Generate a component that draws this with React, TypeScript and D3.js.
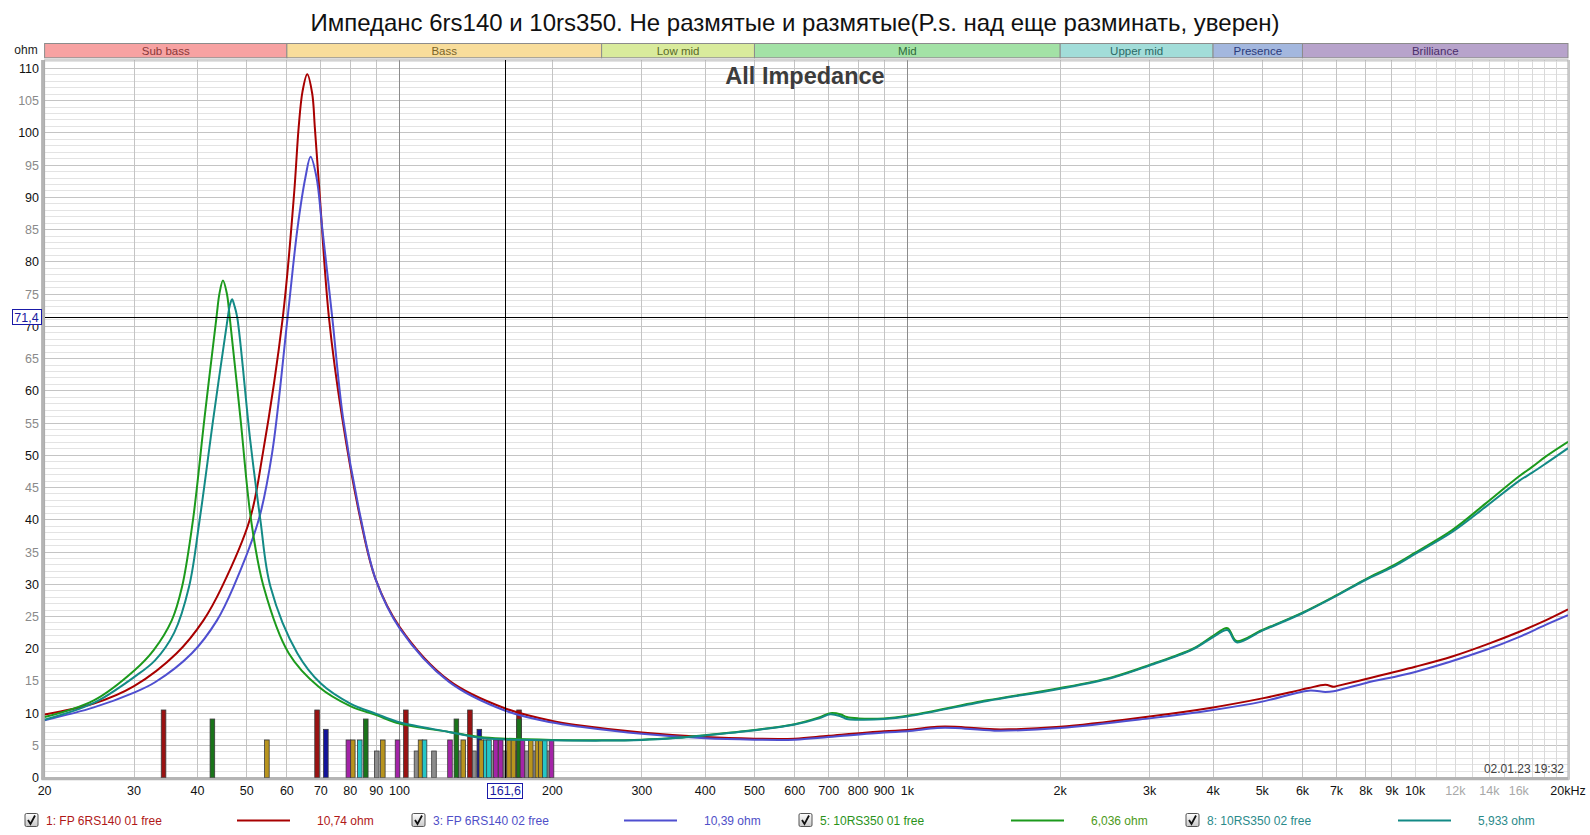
import React from "react";
import * as d3 from "d3";

const TITLE = "Импеданс 6rs140 и 10rs350. Не размятые и размятые(P.s. над еще разминать, уверен)";
const CHART_NAME = "All Impedance";
const DATE_STAMP = "02.01.23 19:32";
const Y_UNIT = "ohm";

// Series: [frequency Hz, impedance ohm]
const fp6rs140_01: [number, number][] = [
  [20, 9.8], [25, 11.5], [30, 14.2], [36.4, 19.3], [41.1, 24.4], [44.7, 29.6], [50.7, 40], [53.8, 50.3],
  [58.9, 71.4], [62.0, 90.6], [63.3, 100.9], [64.4, 106.4], [65.8, 109.1], [67.3, 106.1],
  [68.1, 100.9], [69.6, 90.6], [72.6, 71.4], [77.1, 55.8], [83.8, 40], [89.7, 30.8], [100, 23.4], [125, 15.1],
  [161.6, 10.74], [200, 8.8], [227, 8.1], [300, 7.0], [400, 6.3], [500, 6.05], [600, 6.05], [700, 6.5],
  [900, 7.2], [1000, 7.4], [1145, 7.9], [1242, 7.9], [1484, 7.5], [2000, 7.9], [3000, 9.5], [4000, 10.9],
  [5000, 12.3], [5720, 13.3], [6170, 13.9], [6655, 14.4], [6910, 14.1], [7000, 14.2], [8000, 15.3],
  [10000, 17.2], [11830, 18.8], [13760, 20.6], [16000, 22.6], [18070, 24.4], [20000, 26.1],
];
const fp6rs140_02: [number, number][] = [
  [20, 8.9], [25, 10.9], [30, 13.2], [33, 14.8], [39.0, 19.3], [43.7, 24.4], [47.1, 29.6], [52.8, 40],
  [56.1, 50.3], [60.2, 71.4], [63.0, 85.4], [65.3, 93.2], [66.8, 96.3], [68.6, 93.2],
  [70.4, 85.4], [73.7, 71.4], [77.4, 55.8], [84.0, 40], [89.9, 30.6], [100, 23.2], [125, 14.9],
  [161.6, 10.39], [200, 8.55], [227, 7.9], [300, 6.8], [400, 6.1], [500, 5.9], [600, 5.9], [700, 6.3],
  [900, 7.0], [1000, 7.2], [1145, 7.7], [1242, 7.7], [1484, 7.3], [2000, 7.7], [3000, 9.2], [4000, 10.5],
  [5000, 11.8], [6170, 13.5], [6655, 13.3], [6910, 13.4], [8000, 14.7], [10000, 16.4], [13760, 19.8],
  [16000, 21.8], [18070, 23.7], [20000, 25.2],
];
const rs350_01: [number, number][] = [
  [20, 9.4], [25, 12.0], [30, 16.6], [32.8, 19.8], [35.6, 24.4], [37.3, 29.6], [39.2, 40], [41.3, 55.8],
  [43.6, 71.4], [44.2, 75.1], [44.9, 77.1], [45.7, 75.1], [46.3, 71.4], [48.6, 55.8], [51, 40], [54, 29.6],
  [60.5, 19.3], [69.3, 14.1], [80, 11.1], [90, 9.7], [100, 8.4], [125, 7.1], [144, 6.3], [161.6, 6.04],
  [200, 5.85], [250, 5.8], [300, 5.9], [350, 6.2], [400, 6.6], [500, 7.4], [600, 8.3], [670, 9.35],
  [705, 10.0], [740, 9.8], [760, 9.4], [800, 9.2], [900, 9.2], [1000, 9.6], [1436, 12.0], [2000, 13.9],
  [2534, 15.6], [3000, 17.5], [3650, 20.0], [4000, 22.0], [4270, 23.2], [4450, 21.2], [5000, 22.9],
  [6000, 25.6], [7000, 28.3], [8000, 30.8], [9000, 32.8], [10000, 34.9], [11830, 38.4], [13760, 42.5],
  [16000, 46.7], [17000, 48.2], [18070, 49.8], [20000, 52.1],
];
const rs350_02: [number, number][] = [
  [20, 9.0], [25, 11.6], [30, 15.6], [33, 18.2], [36, 22.5], [38.5, 29.6], [40.4, 40], [43, 55.8], [45.9, 71.4],
  [46.3, 73.2], [46.8, 74.2], [47.3, 73.2], [47.9, 71.4], [50.8, 52.4], [53.2, 40], [55.7, 29.6],
  [62.9, 19.3], [70, 14.6], [80, 11.5], [90, 9.9], [100, 8.6], [125, 7.1], [144, 6.2], [161.6, 5.93],
  [200, 5.8], [250, 5.75], [300, 5.85], [350, 6.15], [400, 6.55], [500, 7.35], [600, 8.25], [670, 9.2],
  [705, 9.85], [740, 9.5], [760, 9.1], [800, 9.0], [900, 9.1], [1000, 9.5], [1436, 11.9], [2000, 13.8],
  [2534, 15.5], [3000, 17.4], [3650, 19.9], [4000, 21.8], [4270, 22.9], [4450, 21.0], [5000, 22.8],
  [6000, 25.5], [7000, 28.2], [8000, 30.7], [9000, 32.6], [10000, 34.7], [11830, 38.1], [13760, 42.0],
  [16000, 46.0], [17000, 47.3], [18070, 48.7], [20000, 51.1],
];

const seriesData = [fp6rs140_01, fp6rs140_02, rs350_01, rs350_02];
const seriesNames = ["1: FP 6RS140 01 free", "3: FP 6RS140 02 free", "5: 10RS350 01 free", "8: 10RS350 02 free"];
const seriesReadouts = ["10,74 ohm", "10,39 ohm", "6,036 ohm", "5,933 ohm"];

// Band bar
const bandNames = ["Sub bass", "Bass", "Low mid", "Mid", "Upper mid", "Presence", "Brilliance"];
const bandEdges = [20, 60, 250, 500, 2000, 4000, 6000, 20000];

// Axis ticks
const yTicks = d3.range(0, 111, 5);
const xTickValues = [20, 30, 40, 50, 60, 70, 80, 90, 100, 200, 300, 400, 500, 600, 700, 800, 900, 1000, 2000, 3000, 4000, 5000, 6000, 7000, 8000, 9000, 10000, 12000, 14000, 16000, 20000];
const xTickLabels = ["20", "30", "40", "50", "60", "70", "80", "90", "100", "200", "300", "400", "500", "600", "700", "800", "900", "1k", "2k", "3k", "4k", "5k", "6k", "7k", "8k", "9k", "10k", "12k", "14k", "16k", "20kHz"];
const xTickFaint = [12000, 14000, 16000];

// Marker bars along the bottom: frequency, kind
const markerFreqs = [34.3, 42.8, 54.8, 68.8, 71.6, 79.3, 80.9, 83.5, 85.8, 90.2, 92.7, 99.1, 102.9, 108, 110, 112, 116.9,
  125.7, 129.4, 131.5, 133.5, 137.6, 140.1, 143.6, 144.9, 147.8, 150, 152.3, 154.7, 158.2, 160.6, 164.3, 167.6,
  169.4, 171.9, 171.9, 174.6, 178.1, 181.3, 184.1, 186.9, 189.7, 193.2, 196.1, 199.2];
const markerKinds = ["R", "G", "Y", "R", "B", "M", "Y", "C", "G", "K", "Y", "M", "R", "K", "Y", "C", "K",
  "M", "G", "K", "Y", "R", "K", "B", "Y", "C", "C", "K", "M", "M", "K", "Y", "Y",
  "K", "R", "G", "M", "K", "Y", "K", "Y", "Y", "C", "K", "M"];
const markerHeights: Record<string, number> = { R: 10.5, G: 9.1, B: 7.5, Y: 5.85, M: 5.85, C: 5.85, K: 4.14 };

const cursorFreq = 161.6;
const cursorOhm = 71.4;
const cursorFreqLabel = "161,6";
const cursorOhmLabel = "71,4";

// ---- styles ----
const W = 1590, H = 835;
const PL = 44.6, PR = 1568, PT = 60, PB = 777.7;
const FONT = "'Liberation Sans', Arial, sans-serif";
const lineColors = ["#a80000", "#4f4fd0", "#1c9a1c", "#138a86"];
const legendText = ["#b01818", "#4f4fc8", "#2a921a", "#2a8a8a"];
const readoutText = ["#b01818", "#4f4fc8", "#4c9a20", "#2a8a8a"];
const bandFill = ["#f7a2a2", "#f8dd9b", "#d9eb9c", "#a3e2a6", "#a2ddd9", "#a3b7de", "#b7a3cb"];
const bandText = ["#8a3838", "#7a6428", "#5a6a28", "#2e6a3a", "#2a6a66", "#2a3a7a", "#4a2e6a"];
const markerFill: Record<string, string> = { R: "#9a1212", G: "#1a741a", B: "#14149a", Y: "#b8941e", M: "#a424a8", C: "#26c6c6", K: "#8c8c8c" };
const markerOrder = ["K", "R", "G", "B", "Y", "M", "C"];

export default function App() {
  const x = d3.scaleLog().domain([20, 20000]).range([PL, PR]);
  const yTop = 111.3;
  const y = d3.scaleLinear().domain([0, yTop]).range([PB, PT]);

  const line = d3.line<[number, number]>()
    .x((d) => x(d[0]))
    .y((d) => y(d[1]))
    .curve(d3.curveCatmullRom.alpha(0.5));

  const vGrid: { f: number; cls: string }[] = [];
  for (let dec = 10; dec <= 10000; dec *= 10) {
    for (let m = 1; m <= 9; m++) {
      const f = dec * m;
      if (f < 20 || f > 20000) continue;
      vGrid.push({ f, cls: dec >= 10000 ? "faint" : (m === 1 ? "major" : "minor") });
    }
  }
  vGrid.push({ f: 20000, cls: "faint" });
  for (let f = 11000; f < 20000; f += 1000) vGrid.push({ f, cls: "faint" });

  const hGrid = d3.range(1, 112, 1);

  const markers = markerFreqs.map((f, i) => ({ f, k: markerKinds[i], i }));
  markers.sort((a, b) => markerOrder.indexOf(a.k) - markerOrder.indexOf(b.k) || a.i - b.i);

  const legendBase = [25, 412, 799, 1186];

  return (
    <svg width={W} height={H} style={{ position: "absolute", left: 0, top: 0, background: "#fff" }} fontFamily={FONT}>
      <defs>
        <clipPath id="plotClip">
          <rect x={PL} y={PT} width={PR - PL} height={PB - PT} />
        </clipPath>
        <linearGradient id="cbGrad" x1="0" y1="0" x2="0" y2="1">
          <stop offset="0" stopColor="#ffffff" />
          <stop offset="1" stopColor="#c8c8c8" />
        </linearGradient>
      </defs>
      <rect x={0} y={0} width={W} height={H} fill="#fff" />

      <text x={795} y={31} textAnchor="middle" fontSize={24} fill="#111">{TITLE}</text>

      {/* band bar */}
      <g>
        {bandNames.map((n, i) => {
          const x0 = x(bandEdges[i]), x1 = x(bandEdges[i + 1]);
          return (
            <g key={n}>
              <rect x={x0} y={43.5} width={x1 - x0} height={14.3} fill={bandFill[i]} stroke="#8c8c8c" strokeWidth={1} />
              <text x={(x0 + x1) / 2} y={54.5} textAnchor="middle" fontSize={11.5} fill={bandText[i]}>{n}</text>
            </g>
          );
        })}
      </g>
      <text x={26} y={54} textAnchor="middle" fontSize={12} fill="#222">{Y_UNIT}</text>

      {/* grid */}
      <g shapeRendering="crispEdges">
        {hGrid.map((v) => (
          <line key={"h" + v} x1={PL} x2={PR} y1={y(v)} y2={y(v)} stroke={v % 5 === 0 ? "#c4c4c4" : "#e3e3e3"} strokeWidth={1} />
        ))}
        {vGrid.map((g, i) => (
          <line key={"v" + i} x1={x(g.f)} x2={x(g.f)} y1={PT} y2={PB}
            stroke={g.cls === "major" ? "#8c8c8c" : g.cls === "faint" ? "#dadada" : "#c4c4c4"} strokeWidth={1} />
        ))}
      </g>

      {/* frame */}
      <rect x={PL} y={PT} width={PR - PL} height={PB - PT} fill="none" stroke="#a8a8a8" strokeWidth={1} />
      <line x1={PL - 2} x2={PL - 2} y1={PT} y2={PB + 2} stroke="#b4b4b4" strokeWidth={3} />
      <line x1={PL - 3} x2={PR + 1} y1={PB + 1} y2={PB + 1} stroke="#b4b4b4" strokeWidth={3} />
      <line x1={PR + 1} x2={PR + 1} y1={PT} y2={PB + 2} stroke="#c8c8c8" strokeWidth={2} />

      <text x={805} y={84} textAnchor="middle" fontSize={23.5} fontWeight="bold" fill="#3c3c3c">{CHART_NAME}</text>

      {/* y labels */}
      {yTicks.map((v) => (
        <text key={"yl" + v} x={39} y={y(v) + 4.5} textAnchor="end" fontSize={12.5} fill={v % 10 === 0 ? "#111" : "#8a8a8a"}>{v}</text>
      ))}
      {/* x labels */}
      {xTickValues.map((f, i) => (
        <text key={"xl" + f} x={x(f)} y={795} textAnchor="middle" fontSize={12.5}
          fill={xTickFaint.includes(f) ? "#a8a8a8" : "#111"}>{xTickLabels[i]}</text>
      ))}

      {/* marker bars */}
      <g clipPath="url(#plotClip)">
        {markers.map((m, i) => {
          const cx = x(m.f);
          const top = y(markerHeights[m.k]);
          return (
            <rect key={"m" + i} x={cx - 2.3} y={top} width={4.6} height={PB - top}
              fill={markerFill[m.k]} stroke="#3a3a3a" strokeWidth={0.8} />
          );
        })}
      </g>

      {/* curves */}
      <g clipPath="url(#plotClip)" fill="none" strokeWidth={2} strokeLinejoin="round">
        {seriesData.map((s, i) => (
          <path key={"s" + i} d={line(s) || ""} stroke={lineColors[i]} />
        ))}
      </g>

      {/* cursor */}
      <g shapeRendering="crispEdges">
        <line x1={x(cursorFreq)} x2={x(cursorFreq)} y1={PT} y2={PB} stroke="#000" strokeWidth={1} />
        <line x1={PL} x2={PR} y1={y(cursorOhm)} y2={y(cursorOhm)} stroke="#000" strokeWidth={1} />
        <rect x={12} y={y(cursorOhm) - 7.5} width={29} height={15} fill="#fff" stroke="#1a1aa8" strokeWidth={1} />
        <rect x={x(cursorFreq) - 17.5} y={783} width={35} height={15} fill="#fff" stroke="#1a1aa8" strokeWidth={1} />
      </g>
      <text x={26.5} y={y(cursorOhm) + 4.5} textAnchor="middle" fontSize={12.5} fill="#1a1aa0">{cursorOhmLabel}</text>
      <text x={x(cursorFreq)} y={795} textAnchor="middle" fontSize={12.5} fill="#1a1aa0">{cursorFreqLabel}</text>

      <text x={1564} y={773} textAnchor="end" fontSize={12} fill="#404040">{DATE_STAMP}</text>

      {/* legend */}
      {seriesNames.map((n, i) => {
        const b = legendBase[i];
        return (
          <g key={"lg" + i}>
            <rect x={b} y={813.5} width={13} height={13} rx={1.5} fill="url(#cbGrad)" stroke="#555" strokeWidth={1} />
            <path d={`M${b + 3},${820} L${b + 5.5},${824} L${b + 10},${815.5}`} fill="none" stroke="#111" strokeWidth={1.8} />
            <text x={b + 21} y={824.5} fontSize={12} fill={legendText[i]}>{n}</text>
            <line x1={b + 212} x2={b + 265} y1={820.5} y2={820.5} stroke={lineColors[i]} strokeWidth={2} />
            <text x={b + 292} y={824.5} fontSize={12} fill={readoutText[i]}>{seriesReadouts[i]}</text>
          </g>
        );
      })}
    </svg>
  );
}
